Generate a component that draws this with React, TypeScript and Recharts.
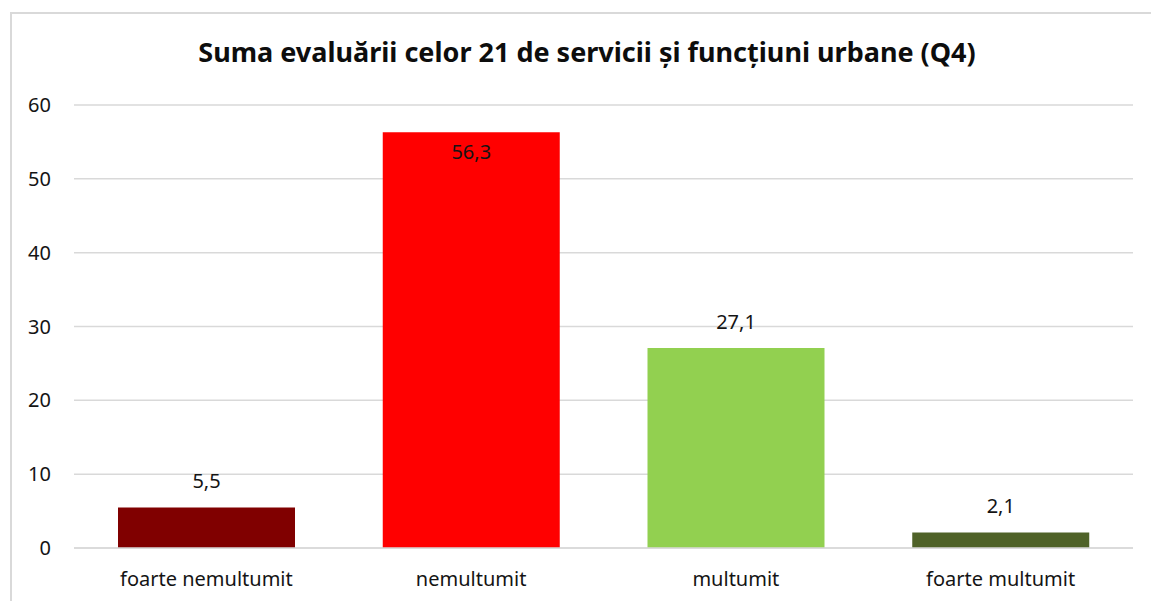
import { BarChart, Bar, XAxis, YAxis, CartesianGrid, Cell, LabelList } from "recharts";

const categories = ["foarte nemultumit", "nemultumit", "multumit", "foarte multumit"];
const values = [5.5, 56.3, 27.1, 2.1];
const barColors = ["#800000", "#FF0000", "#92D050", "#4F6228"];
const yTicks = [0, 10, 20, 30, 40, 50, 60];
const TITLE = "Suma evaluării celor 21 de servicii și funcțiuni urbane (Q4)";

// the tall bar carries its label inside, the others above
const INSIDE_LABEL = "nemultumit";

const data = categories.map((name, i) => ({ name, value: values[i] }));

const FONT = "'Noto Sans', sans-serif";
const GRID = "#d9d9d9";

function fmt(v: number): string {
  return v.toFixed(1).replace(".", ",");
}

interface LabelProps {
  x?: number | string;
  y?: number | string;
  width?: number | string;
  value?: number | string;
  index?: number;
}

function ValueLabel({ x, y, width, value, index }: LabelProps) {
  const cx = Number(x) + Number(width) / 2;
  const top = Number(y);
  const inside = index !== undefined && categories[index] === INSIDE_LABEL;
  return (
    <text
      x={cx}
      y={inside ? top + 27 : top - 19}
      textAnchor="middle"
      fill="#141414"
      fontSize={20}
      fontFamily={FONT}
    >
      {fmt(Number(value))}
    </text>
  );
}

export default function App() {
  return (
    <div
      style={{
        position: "absolute",
        left: 0,
        top: 0,
        width: 1151,
        height: 601,
        overflow: "hidden",
        background: "#fff",
      }}
    >
      <div
        style={{
          position: "absolute",
          left: 10,
          top: 12,
          width: 1160,
          height: 620,
          border: `2px solid ${GRID}`,
          boxSizing: "border-box",
        }}
      />
      <div
        style={{
          position: "absolute",
          left: 37,
          width: 1100,
          top: 36,
          textAlign: "center",
          fontFamily: FONT,
          fontWeight: 700,
          fontSize: 27,
          color: "#0d0d0d",
          lineHeight: "32px",
          whiteSpace: "nowrap",
        }}
      >
        {TITLE}
      </div>
      <BarChart
        width={1151}
        height={601}
        data={data}
        margin={{ top: 105, right: 18, left: 0, bottom: 0 }}
        style={{ position: "absolute", left: 0, top: 0 }}
      >
        <CartesianGrid vertical={false} stroke={GRID} strokeWidth={1.5} />
        <XAxis
          dataKey="name"
          height={53}
          axisLine={{ stroke: GRID, strokeWidth: 1.5 }}
          tickLine={false}
          tickMargin={18}
          tick={{ fontSize: 20, fill: "#141414", fontFamily: FONT }}
          interval={0}
        />
        <YAxis
          width={74}
          domain={[0, 60]}
          ticks={yTicks}
          axisLine={false}
          tickLine={false}
          tickMargin={17}
          tick={{ fontSize: 20, fill: "#141414", fontFamily: FONT }}
        />
        <Bar dataKey="value" barSize={177} isAnimationActive={false}>
          {data.map((d, i) => (
            <Cell key={d.name} fill={barColors[i]} />
          ))}
          <LabelList dataKey="value" content={<ValueLabel />} />
        </Bar>
      </BarChart>
    </div>
  );
}
